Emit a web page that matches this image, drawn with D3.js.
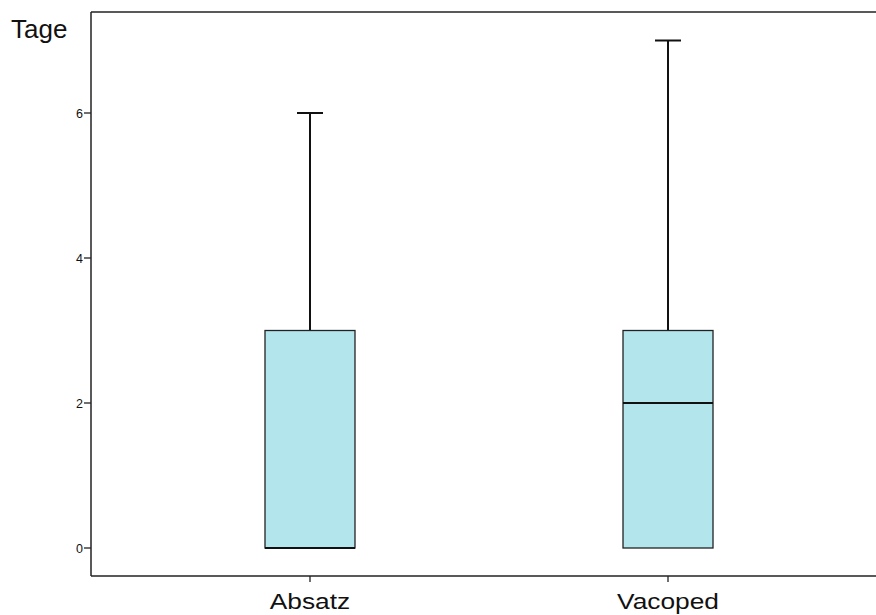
<!DOCTYPE html>
<html>
<head>
<meta charset="utf-8">
<script src="https://cdn.jsdelivr.net/npm/d3@7"></script>
<style>
  body { margin: 0; background: #fff; }
  svg { display: block; font-family: Arial, "Liberation Sans", sans-serif; }
</style>
</head>
<body>
<svg id="chart" width="876" height="615"></svg>
<script>
// box plot data
const categories = ['Absatz', 'Vacoped'];
const whiskerLow = [0, 0];
const q1 = [0, 0];
const median = [0, 2];
const q3 = [3, 3];
const whiskerHigh = [6, 7];
const yTicks = [0, 2, 4, 6];

const svg = d3.select('#chart');
const plotLeft = 91, plotTop = 12, plotBottom = 576, plotRight = 887;

const y = d3.scaleLinear().domain([0, 7]).range([548, 40.5]);
const x = d3.scalePoint().domain(categories).range([plotLeft, plotRight]).padding(0.6117);

const boxW = 90, capW = 26;

// frame: left, top and bottom lines
svg.append('line').attr('x1', plotLeft).attr('x2', plotLeft).attr('y1', plotTop).attr('y2', plotBottom)
  .attr('stroke', '#222').attr('stroke-width', 1.5);
svg.append('line').attr('x1', plotLeft).attr('x2', 876).attr('y1', plotTop).attr('y2', plotTop)
  .attr('stroke', '#222').attr('stroke-width', 1.5);
svg.append('line').attr('x1', plotLeft).attr('x2', 876).attr('y1', plotBottom).attr('y2', plotBottom)
  .attr('stroke', '#222').attr('stroke-width', 1.5);

// y axis ticks
const yAxis = svg.append('g');
yTicks.forEach(t => {
  yAxis.append('line').attr('x1', plotLeft - 7).attr('x2', plotLeft).attr('y1', y(t)).attr('y2', y(t))
    .attr('stroke', '#222').attr('stroke-width', 1.3);
  yAxis.append('text').attr('x', plotLeft - 8).attr('y', y(t) + 4.5)
    .attr('text-anchor', 'end').attr('font-size', 12.5).attr('fill', '#111').text(t);
});

// x axis ticks and labels (slightly stretched like the original)
categories.forEach(c => {
  svg.append('line').attr('x1', x(c)).attr('x2', x(c)).attr('y1', plotBottom).attr('y2', plotBottom + 6)
    .attr('stroke', '#222').attr('stroke-width', 1.3);
  svg.append('text')
    .attr('transform', `translate(${x(c)},609) scale(1.17,1)`)
    .attr('text-anchor', 'middle')
    .attr('font-size', 22.5).attr('fill', '#111').text(c);
});

svg.append('text').attr('x', 11).attr('y', 38).attr('font-size', 26).attr('fill', '#111').text('Tage');

// boxes
const data = categories.map((c, i) => ({
  c, lo: whiskerLow[i], q1: q1[i], med: median[i], q3: q3[i], hi: whiskerHigh[i]
}));

const g = svg.selectAll('g.box').data(data).join('g').attr('class', 'box');

g.append('line')
  .attr('x1', d => x(d.c)).attr('x2', d => x(d.c))
  .attr('y1', d => y(d.q3)).attr('y2', d => y(d.hi))
  .attr('stroke', '#111').attr('stroke-width', 2);
g.append('line')
  .attr('x1', d => x(d.c) - capW / 2).attr('x2', d => x(d.c) + capW / 2)
  .attr('y1', d => y(d.hi)).attr('y2', d => y(d.hi))
  .attr('stroke', '#111').attr('stroke-width', 2);
g.append('rect')
  .attr('x', d => x(d.c) - boxW / 2).attr('width', boxW)
  .attr('y', d => y(d.q3)).attr('height', d => y(d.q1) - y(d.q3))
  .attr('fill', '#b3e5ec').attr('stroke', '#222').attr('stroke-width', 1.3);
g.append('line')
  .attr('x1', d => x(d.c) - boxW / 2).attr('x2', d => x(d.c) + boxW / 2)
  .attr('y1', d => y(d.med)).attr('y2', d => y(d.med))
  .attr('stroke', '#111').attr('stroke-width', 2.2);
</script>
</body>
</html>
